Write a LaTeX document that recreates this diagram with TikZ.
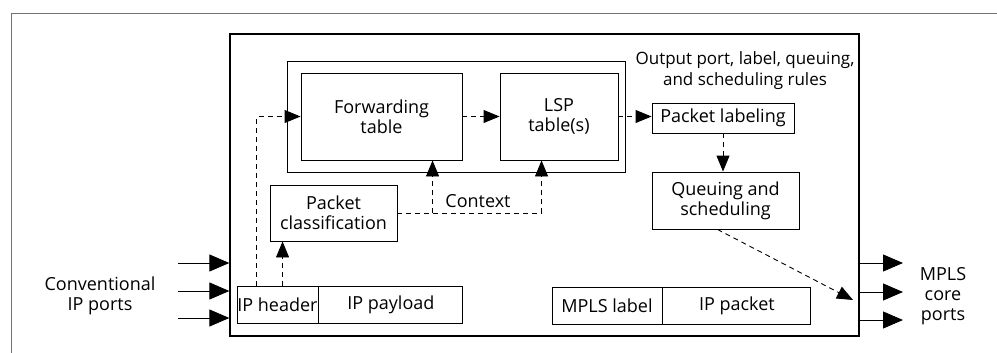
\documentclass[tikz,border=0pt]{standalone}
\usepackage{fontspec}
\setmainfont{Open Sans}
\usetikzlibrary{arrows.meta}
\begin{document}
\begin{tikzpicture}[x=1pt,y=-1pt,
  every node/.style={font=\fontsize{18}{20}\selectfont, align=center, inner sep=0pt},
  blk/.style={draw, line width=0.9pt},
  frame/.style={draw, line width=1.3pt},
  flow/.style={dashed, dash pattern=on 5pt off 4pt, line width=0.9pt,
    -{Triangle[length=16pt,width=13pt]}},
  port/.style={line width=1pt, -{Triangle[length=20pt,width=17pt]}},
  border/.style={draw=black!55, line width=0.6pt}]
\useasboundingbox (0,0) rectangle (997,353);

% page frame
\draw[border] (11,353) -- (11,13) -- (997,13);

% router box and grouped lookup tables
\node[frame, minimum width=629pt, minimum height=302pt] (main) at (544.5,185) {};
\node[blk, minimum width=338pt, minimum height=111pt] (group) at (456,116.5) {};
\node[blk, minimum width=161pt, minimum height=87pt] (fwd) at (381.5,116.5) {Forwarding\\table};
\node[blk, minimum width=118pt, minimum height=87pt] (lsp) at (559,116.5) {LSP\\table(s)};

\node[font=\fontsize{17}{21}\selectfont] (rules) at (745,71) {Output port, label, queuing,\\and scheduling rules};
\node[blk, minimum width=142pt, minimum height=30pt] (plab) at (723,118) {Packet labeling};
\node[blk, minimum width=147pt, minimum height=57pt] (queue) at (725.5,200.5) {Queuing and\\scheduling};
\node[blk, minimum width=127pt, minimum height=56pt] (pclass) at (333.5,213) {Packet\\classification};

% packets
\node[blk, minimum width=81pt, minimum height=37pt] (iphdr) at (277.5,304.5) {IP header};
\node[blk, minimum width=144pt, minimum height=37pt, anchor=west] (ippay) at (iphdr.east) {IP payload};
\node[blk, minimum width=110pt, minimum height=37pt] (mplsl) at (607,305.5) {MPLS label};
\node[blk, minimum width=148pt, minimum height=37pt, anchor=west] (ippkt) at (mplsl.east) {IP packet};

\node (ctx) at (478,201) {Context};
\node (inlbl) at (100,296) {Conventional\\IP ports};
\node (outlbl) at (943,296) {MPLS\\core\\ports};

% internal flow
\coordinate (hdrup) at ([xshift=20pt]iphdr.north west);
\coordinate (hdrcl) at ([xshift=46pt]iphdr.north west);
\coordinate (fwdin) at ([xshift=132pt]fwd.south west);
\coordinate (lspin) at ([xshift=42pt]lsp.south west);
\coordinate (qstart) at ([xshift=-8pt]queue.south);
\coordinate (qend) at (853,300);

\draw[flow] (hdrup) |- (fwd.west);
\draw[flow] (hdrcl) -- (hdrcl |- pclass.south);
\draw[flow] (fwd.east) -- (lsp.west);
\draw[flow] (lsp.east) -- (lsp.east -| plab.west);
\draw[flow] (plab.south) -- (plab.south |- queue.north);
\draw[flow] (pclass.east) -| (lspin);
\draw[flow] (pclass.east -| fwdin) -- (fwdin);
\draw[flow] (qstart) -- (qend);

% ports
\coordinate (in1) at (178,263);
\coordinate (in2) at (178,291);
\coordinate (in3) at (178,318);
\coordinate (out1) at (903,263);
\coordinate (out2) at (903,292);
\coordinate (out3) at (903,320);
\foreach \p in {in1,in2,in3} \draw[port] (\p) -- (\p -| main.west);
\foreach \p in {out1,out2,out3} \draw[port] (\p -| main.east) -- (\p);
\end{tikzpicture}
\end{document}
